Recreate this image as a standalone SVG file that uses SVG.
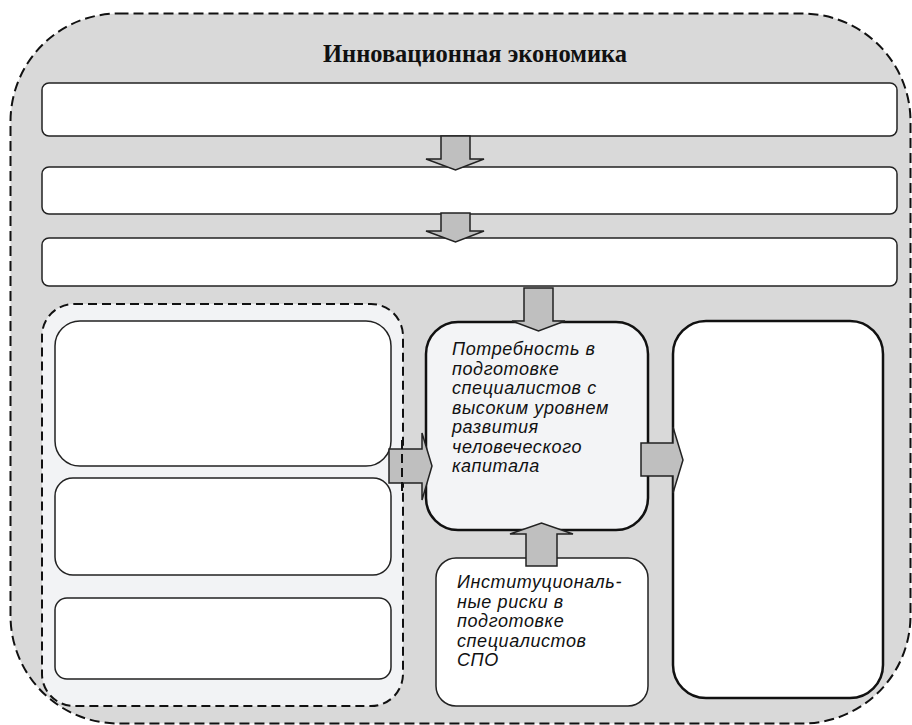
<svg xmlns="http://www.w3.org/2000/svg" width="912" height="725" viewBox="0 0 912 725">
<style>
.bar{fill:#fff;stroke:#222;stroke-width:1.5}
.wb{fill:#fff;stroke:#222;stroke-width:1.5}
.arr{fill:#bfbfbf;stroke:#222;stroke-width:1.5;stroke-linejoin:miter}
.it{font-family:"Liberation Sans",Arial,sans-serif;font-style:italic;font-size:18px;letter-spacing:0.6px;fill:#111}
</style>
<rect width="912" height="725" fill="#fff"/>
<g id="container">
<rect x="10.5" y="13.5" width="900" height="710" rx="108" ry="108" fill="#d9d9d9" stroke="#111" stroke-width="2" stroke-dasharray="10,5"/>
<text x="475" y="62" text-anchor="middle" font-family="Liberation Serif,'Times New Roman',serif" font-weight="bold" font-size="24.5" fill="#111">Инновационная экономика</text>
</g>
<g id="bar1"><rect class="bar" x="42" y="83" width="855" height="53" rx="7"/></g>
<g id="bar2"><rect class="bar" x="42" y="167" width="855" height="47" rx="7"/></g>
<g id="bar3"><rect class="bar" x="42" y="238" width="855" height="48" rx="7"/></g>
<g id="leftgroup">
<rect x="42" y="304" width="361" height="402" rx="32" fill="#f2f3f5" stroke="#111" stroke-width="2" stroke-dasharray="9,5"/>
</g>
<g id="left1"><rect class="wb" x="55" y="321" width="336" height="145" rx="25"/></g>
<g id="left2"><rect class="wb" x="55" y="478" width="336" height="97" rx="18"/></g>
<g id="left3"><rect class="wb" x="55" y="598" width="336" height="81" rx="12"/></g>
<g id="center">
<rect x="426" y="322" width="222" height="208" rx="32" fill="#f3f4f6" stroke="#111" stroke-width="2.5"/>
<text class="it" x="452" y="355">Потребность в</text>
<text class="it" x="452" y="374.5">подготовке</text>
<text class="it" x="452" y="394">специалистов с</text>
<text class="it" x="452" y="413.5">высоким уровнем</text>
<text class="it" x="452" y="433">развития</text>
<text class="it" x="452" y="452.5">человеческого</text>
<text class="it" x="452" y="472">капитала</text>
</g>
<g id="right"><rect x="673" y="321" width="210" height="377" rx="33" fill="#fff" stroke="#111" stroke-width="2.5"/></g>
<g id="risks">
<rect class="wb" x="436" y="558" width="212" height="148" rx="20"/>
<text class="it" x="457" y="588">Институциональ-</text>
<text class="it" x="457" y="607.5">ные риски в</text>
<text class="it" x="457" y="627">подготовке</text>
<text class="it" x="457" y="646.5">специалистов</text>
<text class="it" x="457" y="666">СПО</text>
</g>
<g id="connectors">
<polygon class="arr" points="441,136 470,136 470,159 484,159 455.5,170 426,159 441,159"/>
<polygon class="arr" points="441,213 470,213 470,231 484,231 455.5,242 426,231 441,231"/>
<polygon class="arr" points="524,288 553,288 553,321 565,321 538.5,331 512,321 524,321"/>
<polygon class="arr" points="389,449 422,449 422,433 432,466 422,500 422,483 389,483"/>
<polygon class="arr" points="641,443 673,443 673,427 683,460 673,493 673,476 641,476"/>
<polygon class="arr" points="526,566 557,566 557,534 573,534 541.5,523 510,534 526,534"/>
<line x1="402" y1="440" x2="402" y2="492" stroke="#111" stroke-width="2" stroke-dasharray="9,5"/>
</g>
</svg>
